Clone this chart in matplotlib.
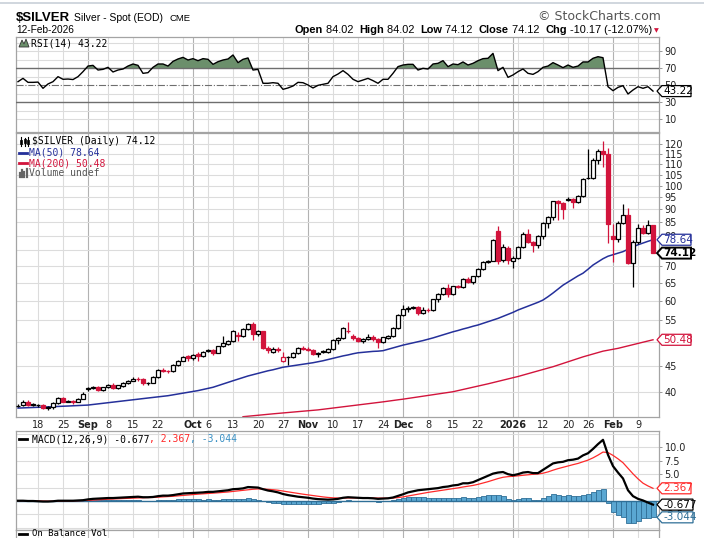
import matplotlib
matplotlib.use("Agg")
import matplotlib.pyplot as plt
import numpy as np
import pandas as pd
from matplotlib.patches import Polygon
from matplotlib.lines import Line2D
from matplotlib.transforms import IdentityTransform
from matplotlib.ticker import FixedLocator, NullLocator, FuncFormatter

# trading days on the chart (no bar on US holidays)
holidays = ["2025-09-01", "2025-11-27", "2025-12-25", "2026-01-01", "2026-01-19"]
dates = pd.bdate_range("2025-08-12", "2026-02-12")
dates = dates[~dates.isin(pd.to_datetime(holidays))]

opens = [37.6, 37.8, 38.4, 37.9, 37.8, 37.8, 37.3, 37.4, 38.1, 39.0,
         38.4, 38.5, 38.4, 38.9, 40.6, 40.7, 41.0, 40.4, 40.9, 41.3,
         40.7, 41.2, 41.6, 42.1, 42.5, 42.4, 41.6, 41.7, 42.8, 44.2,
         44.0, 43.9, 45.1, 46.0, 46.9, 46.5, 47.3, 47.0, 48.1, 48.2,
         47.7, 49.1, 49.6, 50.2, 51.5, 51.3, 52.9, 54.1, 51.8, 52.4,
         48.7, 47.9, 48.4, 46.0, 46.7, 46.8, 47.6, 48.6, 48.5, 48.2,
         47.3, 47.9, 47.9, 48.4, 50.4, 50.9, 52.5, 51.3, 50.8, 50.2,
         50.6, 51.2, 50.6, 49.9, 50.9, 51.3, 53.2, 56.4, 57.8, 58.2,
         58.3, 56.9, 57.7, 57.6, 60.4, 61.8, 63.4, 61.8, 64.0, 63.9,
         66.0, 65.3, 66.9, 69.0, 71.2, 71.7, 81.6, 72.0, 75.9, 71.6,
         72.6, 76.1, 80.8, 77.9, 76.7, 79.8, 84.6, 86.8, 93.2, 92.4,
         93.8, 94.3, 92.8, 95.5, 103.4, 103.6, 112.2, 116.5, 115.2, 80.0,
         78.9, 84.8, 87.7, 70.9, 77.7, 83.0, 81.0, 84.02]
highs = [37.9, 38.6, 38.6, 38.1, 38.0, 38.0, 37.6, 38.3, 39.2, 39.1,
         38.7, 38.6, 39.0, 40.0, 40.9, 41.2, 41.1, 41.0, 41.5, 41.6,
         41.4, 41.8, 42.2, 42.8, 42.8, 42.6, 41.9, 42.9, 44.4, 44.5,
         44.2, 45.3, 46.2, 47.0, 47.2, 47.4, 47.9, 48.1, 48.4, 48.5,
         49.2, 51.3, 50.4, 52.7, 52.3, 53.1, 54.4, 54.6, 52.7, 52.5,
         49.0, 48.8, 48.9, 47.9, 47.0, 47.9, 48.8, 49.0, 48.9, 48.4,
         47.9, 48.2, 48.6, 50.6, 51.2, 53.5, 54.6, 51.7, 51.0, 50.9,
         51.9, 51.5, 50.8, 51.2, 51.5, 53.5, 56.6, 58.8, 58.6, 58.7,
         58.6, 58.4, 58.0, 60.6, 62.0, 63.8, 64.5, 64.2, 64.3, 66.4,
         66.6, 67.1, 69.3, 71.5, 72.0, 79.0, 83.6, 77.0, 76.5, 73.2,
         76.5, 81.5, 82.5, 78.3, 80.2, 84.9, 87.2, 93.5, 93.7, 92.8,
         95.2, 94.8, 96.0, 103.2, 117.5, 112.8, 117.6, 121.6, 118.0, 84.5,
         85.5, 92.3, 90.5, 78.5, 84.5, 84.0, 86.0, 84.02]
lows = [37.5, 37.6, 37.7, 37.6, 37.5, 37.1, 36.9, 37.2, 38.0, 38.3,
        38.3, 37.9, 38.3, 38.8, 40.3, 40.5, 40.2, 40.2, 40.8, 40.5,
        40.5, 41.0, 41.5, 42.0, 42.1, 41.3, 41.3, 41.6, 42.7, 43.8,
        43.5, 43.8, 45.0, 45.9, 46.0, 46.2, 45.9, 46.8, 47.8, 47.2,
        47.6, 48.9, 49.4, 50.0, 50.3, 51.0, 52.6, 50.5, 51.4, 48.4,
        47.7, 47.6, 47.9, 45.8, 45.1, 46.5, 47.4, 48.2, 48.0, 47.1,
        46.8, 47.7, 47.7, 48.3, 49.6, 50.7, 52.0, 50.5, 49.9, 49.8,
        50.4, 50.2, 48.6, 49.7, 50.6, 51.1, 53.0, 56.2, 57.2, 57.9,
        56.3, 56.7, 57.2, 57.3, 59.8, 61.5, 61.0, 61.5, 63.5, 63.6,
        65.0, 64.5, 66.6, 68.7, 70.9, 71.5, 70.6, 71.2, 70.5, 69.5,
        72.2, 75.9, 77.5, 74.5, 75.8, 79.0, 83.0, 86.0, 86.0, 86.3,
        93.4, 90.7, 92.5, 95.0, 102.8, 103.0, 110.0, 108.5, 77.5, 71.2,
        78.0, 84.2, 70.5, 63.7, 77.0, 80.5, 80.5, 74.12]
closes = [37.7, 38.4, 37.8, 37.8, 37.85, 37.3, 37.4, 38.1, 39.0, 38.4,
          38.5, 38.4, 38.9, 39.7, 40.7, 41.0, 40.4, 40.9, 41.3, 40.7,
          41.3, 41.7, 42.1, 42.5, 42.4, 41.6, 41.7, 42.8, 44.2, 44.0,
          43.9, 45.1, 46.0, 46.8, 46.5, 47.2, 47.0, 47.9, 48.2, 47.7,
          49.0, 49.7, 50.2, 52.5, 51.3, 52.9, 54.1, 51.8, 52.4, 48.6,
          48.2, 48.4, 48.3, 46.7, 46.8, 47.7, 48.6, 48.5, 48.2, 47.4,
          47.7, 48.0, 48.4, 50.4, 50.9, 53.3, 52.4, 50.8, 50.3, 50.7,
          51.2, 50.6, 49.9, 51.0, 51.3, 53.2, 56.4, 57.8, 58.1, 58.3,
          56.9, 57.7, 57.6, 60.4, 61.8, 63.4, 61.8, 64.0, 63.9, 66.0,
          65.3, 66.9, 69.0, 71.2, 71.7, 78.4, 71.6, 76.0, 71.8, 72.6,
          76.1, 80.8, 77.9, 76.7, 79.8, 84.6, 86.8, 93.2, 92.4, 90.0,
          94.1, 92.8, 95.5, 102.8, 103.6, 112.2, 116.3, 115.2, 84.3, 78.9,
          84.8, 87.7, 70.9, 77.7, 83.0, 81.0, 84.0, 74.12]

ma50 = [37.3, 37.33, 37.36, 37.4, 37.43, 37.46, 37.5, 37.53, 37.57, 37.6,
        37.64, 37.68, 37.72, 37.76, 37.8, 37.9, 38.0, 38.1, 38.2, 38.3,
        38.4, 38.5, 38.6, 38.7, 38.8, 38.9, 39.0, 39.1, 39.2, 39.3,
        39.4, 39.55, 39.7, 39.85, 40.0, 40.15, 40.3, 40.5, 40.7, 40.9,
        41.2, 41.5, 41.8, 42.1, 42.4, 42.7, 43.0, 43.25, 43.5, 43.75,
        44.0, 44.2, 44.45, 44.7, 44.85, 45.0, 45.15, 45.3, 45.45, 45.6,
        45.8, 46.0, 46.25, 46.5, 46.75, 47.0, 47.2, 47.45, 47.65, 47.75,
        47.85, 47.95, 48.0, 48.1, 48.4, 48.7, 49.0, 49.3, 49.55, 49.8,
        50.05, 50.3, 50.6, 50.9, 51.25, 51.6, 51.95, 52.3, 52.6, 52.95,
        53.25, 53.6, 53.9, 54.3, 54.7, 55.1, 55.5, 56.0, 56.5, 57.0,
        57.6, 58.1, 58.6, 59.1, 59.6, 60.2, 61.1, 62.1, 63.2, 64.3,
        65.2, 66.1, 67.0, 67.8, 69.0, 70.3, 71.3, 72.3, 73.1, 73.6,
        74.1, 74.6, 75.4, 76.2, 76.9, 77.5, 78.1, 78.64]
# the 200-day average is below the visible range until mid-October
ma200 = [np.nan] * 45 + [
        35.9, 35.97, 36.05, 36.13, 36.2, 36.28, 36.36, 36.43, 36.5, 36.57,
        36.64, 36.71, 36.79, 36.86, 36.93, 37.0, 37.1, 37.2, 37.3, 37.4,
        37.5, 37.6, 37.7, 37.8, 37.9, 38.0, 38.11, 38.23, 38.34, 38.46,
        38.57, 38.69, 38.8, 38.93, 39.06, 39.19, 39.32, 39.45, 39.58, 39.71,
        39.84, 39.97, 40.1, 40.3, 40.5, 40.7, 40.9, 41.1, 41.3, 41.53,
        41.76, 41.99, 42.21, 42.44, 42.67, 42.9, 43.17, 43.44, 43.71, 43.99,
        44.26, 44.53, 44.8, 45.13, 45.47, 45.8, 46.13, 46.47, 46.8, 47.1,
        47.4, 47.7, 48.0, 48.2, 48.4, 48.6, 48.87, 49.14, 49.41, 49.67,
        49.94, 50.21, 50.48]

rsi = [54.3, 58.2, 53.5, 53.5, 53.8, 46.5, 51.6, 54.3, 60.2, 57.1,
       57.4, 56.8, 60.2, 66.1, 72.7, 73.5, 68.0, 68.8, 71.2, 65.7,
       68.0, 69.2, 72.7, 75.1, 73.5, 64.1, 64.9, 71.2, 75.1, 75.1,
       72.7, 78.2, 81.0, 82.9, 79.8, 81.4, 79.0, 81.4, 80.6, 74.7,
       77.8, 79.8, 81.0, 85.7, 76.7, 80.6, 82.2, 68.0, 68.8, 52.4,
       52.4, 53.1, 52.4, 45.3, 46.9, 49.2, 53.5, 53.1, 50.4, 46.9,
       50.0, 51.2, 52.4, 60.2, 63.3, 67.3, 62.9, 57.1, 54.3, 56.3,
       58.2, 55.5, 52.4, 57.1, 57.1, 64.1, 72.0, 73.9, 74.7, 74.7,
       68.0, 70.0, 69.2, 75.1, 75.9, 79.0, 72.0, 75.1, 74.3, 77.5,
       73.9, 75.9, 79.0, 81.4, 81.8, 87.6, 67.3, 71.2, 59.4, 62.2,
       66.1, 69.2, 64.1, 62.9, 66.1, 71.2, 72.7, 76.7, 73.9, 70.8,
       73.9, 71.2, 72.7, 77.5, 77.5, 81.8, 83.7, 82.5, 48.4, 43.7,
       47.6, 49.6, 39.8, 44.5, 48.4, 46.5, 48.4, 43.22]

macd = [0.05, 0.05, 0.0, 0.0, -0.05, -0.1, -0.1, -0.05, 0.05, 0.05,
        0.05, 0.05, 0.1, 0.15, 0.3, 0.4, 0.45, 0.5, 0.55, 0.55,
        0.6, 0.65, 0.7, 0.75, 0.8, 0.7, 0.7, 0.75, 0.9, 1.0,
        1.0, 1.1, 1.25, 1.4, 1.45, 1.5, 1.55, 1.6, 1.7, 1.7,
        1.8, 1.9, 2.0, 2.2, 2.25, 2.35, 2.6, 2.55, 2.5, 2.2,
        1.95, 1.8, 1.6, 1.3, 1.1, 0.95, 0.8, 0.7, 0.6, 0.45,
        0.35, 0.3, 0.25, 0.3, 0.4, 0.6, 0.7, 0.65, 0.6, 0.55,
        0.55, 0.5, 0.4, 0.45, 0.5, 0.65, 0.95, 1.25, 1.6, 1.8,
        2.0, 2.1, 2.2, 2.3, 2.4, 2.6, 2.7, 2.9, 3.0, 3.3,
        3.3, 3.5, 3.9, 4.3, 4.7, 5.1, 5.3, 5.4, 5.0, 4.8,
        5.0, 5.3, 5.4, 5.2, 5.2, 5.8, 6.4, 7.0, 7.2, 7.3,
        7.6, 7.7, 7.9, 8.5, 8.9, 9.7, 10.6, 11.4, 8.6, 6.5,
        5.3, 4.2, 2.0, 0.9, 0.4, 0.1, -0.3, -0.677]
signal = [0.05, 0.05, 0.05, 0.05, 0.0, -0.02, -0.05, -0.05, -0.02, 0.0,
          0.0, 0.02, 0.05, 0.07, 0.12, 0.18, 0.23, 0.28, 0.33, 0.38,
          0.42, 0.46, 0.5, 0.55, 0.6, 0.62, 0.64, 0.66, 0.71, 0.77,
          0.82, 0.88, 0.95, 1.04, 1.12, 1.2, 1.27, 1.33, 1.41, 1.46,
          1.53, 1.6, 1.68, 1.78, 1.87, 1.97, 2.1, 2.19, 2.25, 2.24,
          2.18, 2.1, 2.0, 1.86, 1.71, 1.56, 1.41, 1.27, 1.14, 1.0,
          0.87, 0.76, 0.66, 0.59, 0.55, 0.56, 0.58, 0.6, 0.6, 0.59,
          0.58, 0.57, 0.54, 0.52, 0.52, 0.55, 0.63, 0.76, 0.93, 1.1,
          1.28, 1.44, 1.6, 1.74, 1.87, 2.02, 2.15, 2.3, 2.44, 2.61,
          2.75, 2.9, 3.1, 3.34, 3.6, 3.9, 4.18, 4.42, 4.54, 4.6,
          4.7, 4.8, 4.92, 4.98, 5.03, 5.18, 5.42, 5.74, 6.03, 6.28,
          6.54, 6.77, 7.0, 7.3, 7.62, 8.04, 8.55, 9.12, 9.02, 8.5,
          7.86, 7.13, 6.1, 5.06, 4.13, 3.32, 2.8, 2.367]

tick_dates = ["2025-08-18", "2025-08-25", "2025-09-02", "2025-09-08", "2025-09-15",
              "2025-09-22", "2025-10-01", "2025-10-06", "2025-10-13", "2025-10-20",
              "2025-10-27", "2025-11-03", "2025-11-10", "2025-11-17", "2025-11-24",
              "2025-12-01", "2025-12-08", "2025-12-15", "2025-12-22", "2026-01-02",
              "2026-01-12", "2026-01-20", "2026-01-26", "2026-02-02", "2026-02-09"]
tick_labels = ["18", "25", "Sep", "8", "15", "22", "Oct", "6", "13", "20", "27",
               "Nov", "10", "17", "24", "Dec", "8", "15", "22", "2026",
               "12", "20", "26", "Feb", "9"]
month_starts = ["2025-09-02", "2025-10-01", "2025-11-03", "2025-12-01", "2026-01-02", "2026-02-02"]
extra_grid = ["2025-09-29", "2026-01-05"]

# right-axis labels (those fully hidden behind the value tags are left out)
price_ticks = [40, 45, 55, 60, 65, 70, 80, 85, 90, 95, 100, 105, 110, 115, 120]
price_grid = [40, 45, 50, 55, 60, 65, 70, 75, 80, 85, 90, 95, 100, 105, 110, 115, 120]
rsi_ticks = [10, 30, 50, 70, 90]
macd_ticks = [-2.5, 5, 7.5, 10]

RED = "#d2143c"
BLUE = "#25309a"
GRID = "#dcdcdc"
MGRID = "#b2b2b2"
FRAME = "#a4a4a4"
MONO = "DejaVu Sans Mono"
SANS = "Liberation Sans"

W, H = 704, 538
fig = plt.figure(figsize=(W / 100, H / 100), dpi=100)


def rect(x0, y0, x1, y1):
    return [x0 / W, 1 - y1 / H, (x1 - x0) / W, (y1 - y0) / H]


def ftext(x, y, s, **kw):
    return fig.text(x / W, 1 - y / H, s, **kw)


def fline(xs, ys, **kw):
    fig.add_artist(Line2D(xs, [H - v for v in ys], transform=IdentityTransform(), **kw))


def width(t):
    return t.get_window_extent(fig.canvas.get_renderer()).width


def fit(t, w):
    # size a header text so that it spans the width it has in the chart
    for _ in range(3):
        t.set_fontsize(t.get_fontsize() * w / width(t))
    return t


ax_r = fig.add_axes(rect(16, 37.3, 659, 132))
ax_p = fig.add_axes(rect(16, 133, 659, 416.7))
ax_m = fig.add_axes(rect(16, 430.7, 659, 529.7))
ax_o = fig.add_axes(rect(16, 529.7, 659, 600))

x = np.arange(len(dates))
pos = {d: i for i, d in enumerate(dates.strftime("%Y-%m-%d"))}
tick_x = [pos[d] for d in tick_dates]

for ax in (ax_r, ax_p, ax_m, ax_o):
    ax.set_xlim(-0.4, 128.2)
    for s in ax.spines.values():
        s.set_color(FRAME)
        s.set_linewidth(0.9)
    for d in tick_dates + extra_grid:
        ax.axvline(pos[d], color=MGRID if d in month_starts else GRID, lw=0.8, zorder=0)
    ax.yaxis.tick_right()
    ax.tick_params(axis="y", length=2.5, width=0.6, color="#888888", labelsize=7,
                   labelcolor="#222222", pad=1.5)
    ax.tick_params(axis="x", length=0)
    ax.set_xticks([])

# ---- RSI panel
r = np.array(rsi)
ax_r.set_ylim(-4.9, 106.5)
ax_r.yaxis.set_major_locator(FixedLocator(rsi_ticks))
for lv in [10, 20, 40, 60, 80, 90, 100]:
    ax_r.axhline(lv, color=GRID, lw=0.8, zorder=0)
ax_r.fill_between(x, r, 70, where=r >= 70, interpolate=True, color="#6b8f6b", lw=0, zorder=2)
ax_r.axhline(70, color="#6e6e6e", lw=1.0, zorder=3)
ax_r.axhline(30, color="#6e6e6e", lw=1.0, zorder=3)
ax_r.axhline(50, color="#6e6e6e", lw=0.8, ls="-.", zorder=3)
ax_r.plot(x, r, color="black", lw=1.0, zorder=4)

# ---- price panel
o, h, l, c = (np.array(v) for v in (opens, highs, lows, closes))
prev = np.r_[c[0], c[:-1]]
edge = np.where(c < prev, RED, "black")
face = np.where(c < o, edge, "white")
ax_p.set_yscale("log")
ax_p.set_ylim(35.9, 126.2)
ax_p.yaxis.set_major_locator(FixedLocator(price_ticks))
ax_p.yaxis.set_minor_locator(NullLocator())
ax_p.yaxis.set_major_formatter(FuncFormatter(lambda v, p: f"{v:g}"))
for lv in price_grid:
    ax_p.axhline(lv, color=GRID, lw=0.8, zorder=0)
ax_p.plot(x, ma200, color=RED, lw=1.0, zorder=2)
ax_p.plot(x, ma50, color=BLUE, lw=1.1, zorder=2)
ax_p.vlines(x, l, h, colors=edge, lw=0.9, zorder=3)
ax_p.bar(x, np.abs(c - o), bottom=np.minimum(o, c), width=0.72, color=face,
         edgecolor=edge, linewidth=0.9, zorder=4)
ax_p.set_xticks(tick_x)
ax_p.set_xticklabels(tick_labels)
ax_p.tick_params(axis="x", labelsize=7, pad=2.5, labelcolor="#222222")
for t in ax_p.get_xticklabels():
    if not t.get_text().isdigit() or len(t.get_text()) == 4:
        t.set_fontweight("bold")

# ---- MACD panel
m, sg = np.array(macd), np.array(signal)
ax_m.set_ylim(-5.35, 13.1)
ax_m.yaxis.set_major_locator(FixedLocator(macd_ticks))
ax_m.yaxis.set_major_formatter(FuncFormatter(lambda v, p: f"{v:.1f}"))
for lv in [-5, -2.5, 2.5, 5, 7.5, 10, 12.5]:
    ax_m.axhline(lv, color=GRID, lw=0.8, zorder=0)
ax_m.bar(x, m - sg, width=1.0, color="#5aa7d2", edgecolor="#2f6f97", linewidth=0.6, zorder=2)
ax_m.axhline(0, color="#2f6f97", lw=1.0, zorder=2)
ax_m.plot(x, sg, color="#ff2a2a", lw=0.9, zorder=3)
ax_m.plot(x, m, color="black", lw=1.6, zorder=4)

ax_o.set_yticks([])

# ---- value tags on the right axis
fig.canvas.draw()


def tag(ax, val, s, ec, tc=None, bold=False, right=691):
    yd = ax.transData.transform((0, val))[1]
    pts = [(657, yd), (662, yd + 5.5), (right, yd + 5.5), (right, yd - 5.5), (662, yd - 5.5)]
    fig.add_artist(Polygon(pts, closed=True, fc="white", ec=ec, lw=1.4 if bold else 0.9,
                           transform=IdentityTransform(), zorder=10))
    fig.text(663.5 / W, yd / H, s, ha="left", va="center", fontsize=7.5,
             color=tc or ec, fontweight="bold" if bold else "normal", zorder=11)


tag(ax_r, rsi[-1], "43.22", "black")
tag(ax_p, ma50[-1], "78.64", BLUE)
tag(ax_p, closes[-1], "74.12", "black", bold=True)
tag(ax_p, ma200[-1], "50.48", RED)
tag(ax_m, signal[-1], "2.367", "#ff2a2a")
tag(ax_m, macd[-1], "-0.677", "black", right=693)
tag(ax_m, macd[-1] - signal[-1], "-3.044", "#2f6f97", right=693)

# ---- panel legends
ftext(31, 43.5, "RSI(14) 43.22", fontsize=7, family=MONO, va="center")
fig.add_artist(Polygon([(19, H - 47), (22, H - 40), (24, H - 44), (26, H - 39), (29, H - 47)],
                       closed=True, fc="#6b8f6b", ec="#333333", lw=0.6, transform=IdentityTransform()))
ftext(31.5, 141.5, "$SILVER (Daily) 74.12", fontsize=7, family=MONO, va="center")
for k, xx in enumerate([21, 24.5, 28]):
    fline([xx, xx], [137 + k % 2, 146], color="black", lw=0.8)
    fig.add_artist(plt.Rectangle((xx - 1, H - 144 + k % 2), 2, 4, fc="white", ec="black", lw=0.6,
                                 transform=IdentityTransform()))
fline([19, 27], [152.5, 152.5], color=BLUE, lw=2)
ftext(29, 152.5, "MA(50) 78.64", fontsize=7, family=MONO, va="center", color=BLUE)
fline([19, 27], [163.2, 163.2], color=RED, lw=2)
ftext(29, 163.2, "MA(200) 50.48", fontsize=7, family=MONO, va="center", color=RED)
for k, hh in enumerate([4, 7, 5, 8]):
    fline([20 + 2.2 * k, 20 + 2.2 * k], [177, 177 - hh], color="#666666", lw=1.6)
ftext(29, 173.3, "Volume undef", fontsize=7, family=MONO, va="center", color="#555555")

fline([19, 27], [439, 439], color="black", lw=2)
xm = 31.5
for s, col in [("MACD(12,26,9) -0.677", "black"), (", 2.367", "#ff2a2a"), (", -3.044", "#3a90c4")]:
    t = ftext(xm, 439, s, fontsize=7, family=MONO, va="center", color=col)
    xm += width(t)
fline([19, 27], [533.5, 533.5], color="black", lw=2)
ftext(31.5, 533.8, "On Balance Vol", fontsize=6.5, family=MONO, va="center")

# ---- header
fline([0, W], [2.5, 2.5], color="#c8d0d8", lw=1.2)
fit(ftext(16, 21, "$SILVER", family=SANS, fontweight="bold", fontsize=9, va="baseline"), 54)
fit(ftext(74, 21, "Silver - Spot (EOD)", family=SANS, fontsize=7, va="baseline"), 89)
fit(ftext(170, 21, "CME", family=SANS, fontsize=7, va="baseline"), 21)
fit(ftext(661, 20.5, "\u00a9 StockCharts.com", family="DejaVu Sans", fontsize=8, va="baseline",
          ha="right", color="#555555"), 122)
fit(ftext(16, 33, "12-Feb-2026", family=SANS, fontsize=6.5, va="baseline"), 58)

pieces = [("Open", "bold"), (" 84.02  ", "normal"), ("High", "bold"), (" 84.02  ", "normal"),
          ("Low", "bold"), (" 74.12  ", "normal"), ("Close", "bold"), (" 74.12  ", "normal"),
          ("Chg", "bold"), (" -10.17 (-12.07%)", "normal")]
xr = 652
for s, wgt in reversed(pieces):
    t = ftext(xr, 33, s, family=SANS, fontweight=wgt, fontsize=7.9, va="baseline", ha="right")
    xr -= width(t)
ftext(654, 31, "\u25bc", fontsize=4.5, family="DejaVu Sans", color=RED, va="center")

fig.savefig("out.png", dpi=100)
